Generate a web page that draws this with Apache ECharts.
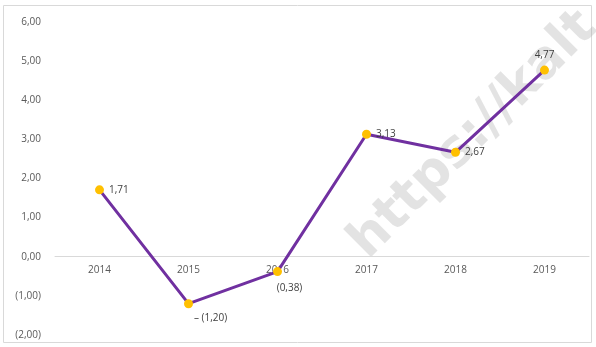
<!DOCTYPE html>
<html>
<head>
<meta charset="utf-8">
<script src="https://cdn.jsdelivr.net/npm/echarts@6/dist/echarts.min.js"></script>
<style>
  html, body { margin: 0; padding: 0; background: #fff; }
  #chart { width: 596px; height: 347px; }
</style>
</head>
<body>
<div id="chart"></div>
<script>
var years = ['2014', '2015', '2016', '2017', '2018', '2019'];
var values = [1.71, -1.20, -0.38, 3.13, 2.67, 4.77];
var labelPos = ['right', 'right', 'bottom', 'right', 'right', 'top'];

function fmt(v) {
    var s = Math.abs(v).toFixed(2).replace('.', ',');
    return v < 0 ? '(' + s + ')' : s;
}

var points = values.map(function (v, i) {
    var p = { value: v, label: { position: labelPos[i] } };
    if (i === 1) p.label = { position: 'bottom', offset: [22, 0], formatter: function (d) { return '– ' + fmt(d.value); } };
    if (i === 2) p.label = { position: 'bottom', offset: [12, 2] };
    return p;
});

var chart = echarts.init(document.getElementById('chart'));
chart.setOption({
    animation: false,
    grid: { left: 55, right: 7, top: 22, bottom: 12, outerBoundsMode: 'none' },
    graphic: [
        {
            type: 'rect',
            shape: { x: 3.5, y: 5.5, width: 588, height: 337 },
            style: { fill: 'none', stroke: '#d9d9d9', lineWidth: 1 },
            z: -1
        },
        {
            type: 'text',
            rotation: Math.PI * 45 / 180,
            x: 340, y: 232,
            style: {
                text: 'https://kalt',
                font: 'bold 52px "DejaVu Sans"',
                fill: 'rgba(170,170,170,0.33)'
            },
            z: 0
        }
    ],
    xAxis: {
        type: 'category',
        data: years,
        offset: -79,
        axisLine: { onZero: false, lineStyle: { color: '#d9d9d9' } },
        axisTick: { show: false },
        axisLabel: { color: '#595959', fontSize: 10, fontFamily: 'Open Sans', margin: 9 }
    },
    yAxis: {
        type: 'value',
        min: -2,
        max: 6,
        interval: 1,
        axisLine: { show: false },
        axisTick: { show: false },
        splitLine: { show: false },
        axisLabel: {
            color: '#595959', fontSize: 10, fontFamily: 'Open Sans', margin: 14,
            formatter: fmt
        }
    },
    series: [{
        type: 'line',
        data: points,
        symbol: 'circle',
        symbolSize: 9,
        lineStyle: { color: '#7030a0', width: 3 },
        itemStyle: { color: '#ffc000' },
        label: {
            show: true,
            color: '#404040',
            fontSize: 10,
            fontFamily: 'Open Sans',
            formatter: function (d) { return fmt(d.value); }
        },
        z: 3
    }]
});
</script>
</body>
</html>
